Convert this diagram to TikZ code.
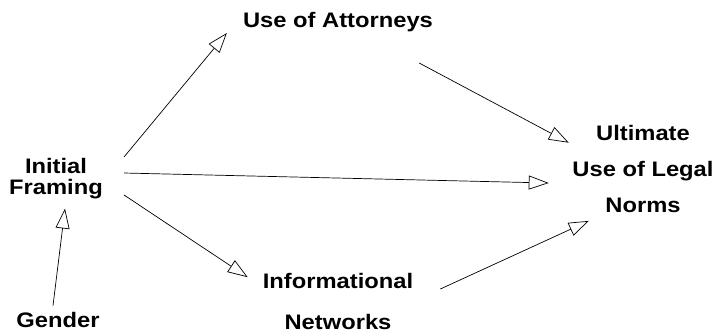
\documentclass[tikz,border=0pt]{standalone}
\usepackage{fontspec}
\newfontfamily\diagfont[FakeStretch=1.13]{Liberation Sans}
\usetikzlibrary{arrows.meta}

\tikzset{
  lbl/.style={font=\diagfont\bfseries\fontsize{21}{#1}\selectfont, align=center, inner sep=0pt},
  lbl/.default=24,
  arr/.style={-{Triangle[open,length=20pt,width=14pt]}, line width=0.7pt}
}

\begin{document}
\begin{tikzpicture}[x=1pt,y=-1pt]
  \useasboundingbox (0,0) rectangle (719,333);

  %boxes
  \node[lbl] (att) at (338,22) {Use of Attorneys};
  \node[lbl=21] (frame) at (56,179) {Initial\\Framing};
  \node[lbl=36] (ult) at (643,169) {Ultimate\\Use of Legal\\Norms};
  \node[lbl=41] (inf) at (338,301) {Informational\\Networks};
  \node[lbl] (gen) at (58,320) {Gender};

  %paths
  \draw[arr] ([shift={(21,-22)}]frame.east) -- ([shift={(-16,11)}]att.west);
  \draw[arr] ([shift={(-14,31)}]att.south east) -- ([shift={(-3.5,17.6)}]ult.north west);
  \draw[arr] ([shift={(21,-6)}]frame.east) -- ([shift={(-23.5,14)}]ult.west);
  \draw[arr] ([shift={(21,16)}]frame.east) -- ([shift={(-15,4.6)}]inf.north west);
  \draw[arr] ([shift={(27,-12)}]inf.east) -- ([shift={(16.5,8)}]ult.south west);
  \draw[arr] ([shift={(-5,-6.4)}]gen.north) -- ([shift={(9,9)}]frame.south);

\end{tikzpicture}
\end{document}
